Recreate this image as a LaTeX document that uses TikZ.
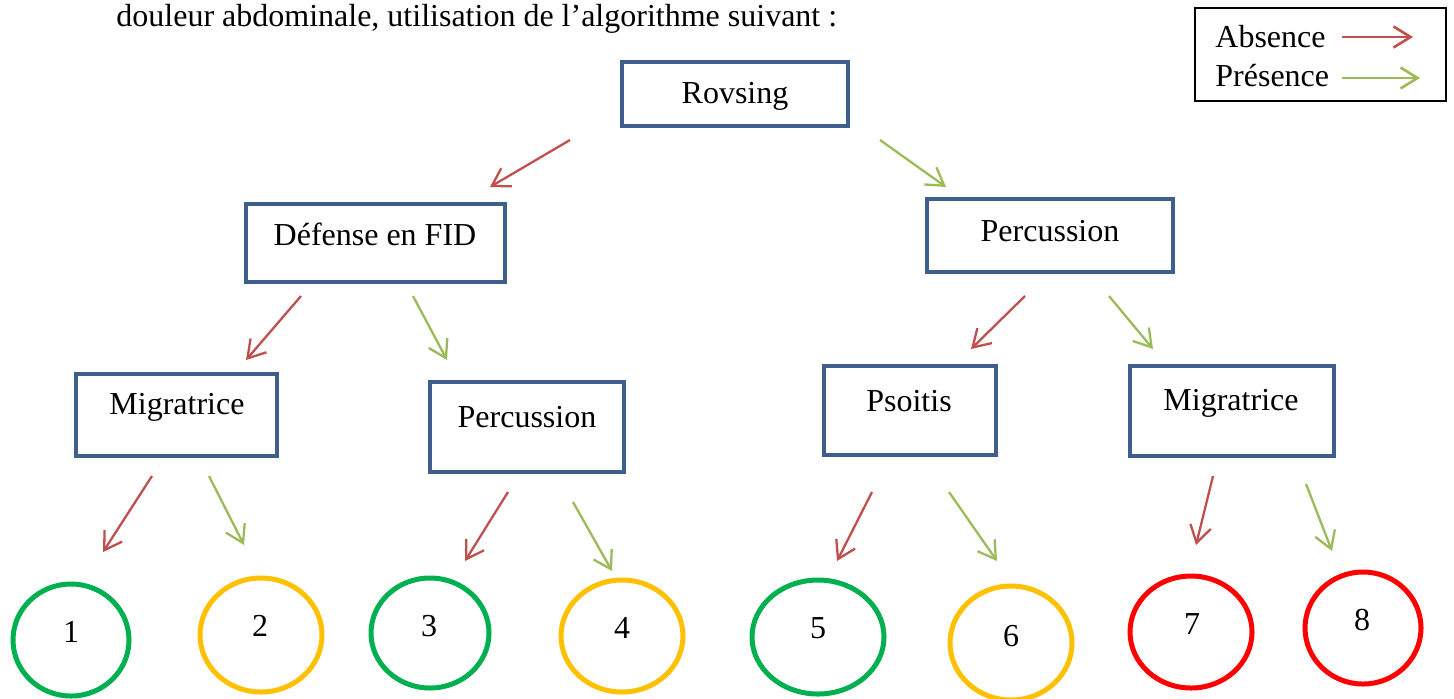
\documentclass[tikz,border=0pt]{standalone}
\usepackage{fontspec}
\setmainfont{Liberation Serif}
\usetikzlibrary{arrows.meta,shapes.geometric}
\definecolor{boxblue}{RGB}{62,94,140}
\definecolor{absred}{RGB}{192,80,77}
\definecolor{presgreen}{RGB}{155,187,89}
\definecolor{cgreen}{RGB}{0,176,80}
\definecolor{corange}{RGB}{255,192,0}
\definecolor{cred}{RGB}{255,0,0}
\begin{document}
\begin{tikzpicture}[x=0.5pt,y=-0.5pt,
  txt/.style={font=\fontsize{16}{19}\selectfont, inner sep=0pt, anchor=base},
  boxnode/.style={draw=boxblue, line width=2.4pt, rectangle, inner sep=0pt},
  ringnode/.style={ellipse, line width=2.5pt, inner sep=0pt},
  absarrow/.style={draw=absred, line width=1.15pt, -{Straight Barb[length=8.5pt,width=10.5pt]}},
  presarrow/.style={draw=presgreen, line width=1.15pt, -{Straight Barb[length=8.5pt,width=10.5pt]}}]
\useasboundingbox (0,0) rectangle (1454,698);
% title
\node[txt, anchor=base west] (title) at (116,26) {douleur abdominale, utilisation de l’algorithme suivant :};
% legend
\node[draw=black, line width=1pt, rectangle, inner sep=0pt, minimum width=125.5pt, minimum height=46.5pt] (legend) at (1320.5,54.5) {};
\node[txt, anchor=base west] (labs) at (1215,47) {Absence};
\node[txt, anchor=base west] (lpres) at (1215,86) {Présence};
\coordinate (la1) at (1342,37); \coordinate (la2) at (1413,37);
\coordinate (lp1) at (1342,78); \coordinate (lp2) at (1420,78);
\draw[absarrow, line width=1.3pt] (la1) -- (la2);
\draw[presarrow, line width=1.3pt] (lp1) -- (lp2);
% boxes
\node[boxnode, minimum width=113pt, minimum height=32pt] (rov) at (735,94) {};
\node[boxnode, minimum width=129.5pt, minimum height=39pt] (def) at (375.5,243) {};
\node[boxnode, minimum width=123pt, minimum height=36.5pt] (percR) at (1050,235.5) {};
\node[boxnode, minimum width=100.5pt, minimum height=41pt] (migL) at (176.5,415) {};
\node[boxnode, minimum width=97pt, minimum height=45pt] (percL) at (527,427) {};
\node[boxnode, minimum width=86pt, minimum height=44.5pt] (pso) at (910,410.5) {};
\node[boxnode, minimum width=102pt, minimum height=45pt] (migR) at (1232,411) {};
\node[txt] (rovT) at (735,103) {Rovsing};
\node[txt] (defT) at (375,245) {Défense en FID};
\node[txt] (percRT) at (1050,241) {Percussion};
\node[txt] (migLT) at (177,414) {Migratrice};
\node[txt] (percLT) at (527,427) {Percussion};
\node[txt] (psoT) at (909,411) {Psoitis};
\node[txt] (migRT) at (1231,410) {Migratrice};
% rings
\node[ringnode, draw=cgreen, minimum width=58pt, minimum height=56pt] (c1) at (71,640) {};
\node[ringnode, draw=corange, minimum width=61pt, minimum height=57pt] (c2) at (261,635) {};
\node[ringnode, draw=cgreen, minimum width=59pt, minimum height=55pt] (c3) at (430,633) {};
\node[ringnode, draw=corange, minimum width=61pt, minimum height=56pt] (c4) at (622,636) {};
\node[ringnode, draw=cgreen, minimum width=66pt, minimum height=57pt] (c5) at (818,637) {};
\node[ringnode, draw=corange, minimum width=61pt, minimum height=57pt] (c6) at (1011,643) {};
\node[ringnode, draw=cred, minimum width=61pt, minimum height=56pt] (c7) at (1191,632) {};
\node[ringnode, draw=cred, minimum width=58pt, minimum height=56pt] (c8) at (1363,628) {};
\node[txt] (n1) at (71,642) {1};
\node[txt] (n2) at (260,636) {2};
\node[txt] (n3) at (429,636) {3};
\node[txt] (n4) at (622,638) {4};
\node[txt] (n5) at (818,638) {5};
\node[txt] (n6) at (1011,646) {6};
\node[txt] (n7) at (1192,634) {7};
\node[txt] (n8) at (1362,630) {8};
% arrow end points
\coordinate (a1s) at (570,140);  \coordinate (a1e) at (490,187);
\coordinate (a2s) at (880,140);  \coordinate (a2e) at (946,187);
\coordinate (a3s) at (301,296);  \coordinate (a3e) at (246,360);
\coordinate (a4s) at (413,296);  \coordinate (a4e) at (447,360);
\coordinate (a5s) at (1025,296); \coordinate (a5e) at (971,349);
\coordinate (a6s) at (1109,296); \coordinate (a6e) at (1153,349);
\coordinate (b1s) at (152,476);  \coordinate (b1e) at (103,552);
\coordinate (b2s) at (209,476);  \coordinate (b2e) at (244,545);
\coordinate (b3s) at (508,492);  \coordinate (b3e) at (465,561);
\coordinate (b4s) at (573,502);  \coordinate (b4e) at (612,571);
\coordinate (b5s) at (872,492);  \coordinate (b5e) at (837,561);
\coordinate (b6s) at (949,492);  \coordinate (b6e) at (997,561);
\coordinate (b7s) at (1213,476); \coordinate (b7e) at (1196,545);
\coordinate (b8s) at (1306,484); \coordinate (b8e) at (1332,551);
\draw[absarrow] (a1s) -- (a1e);
\draw[presarrow] (a2s) -- (a2e);
\draw[absarrow] (a3s) -- (a3e);
\draw[presarrow] (a4s) -- (a4e);
\draw[absarrow] (a5s) -- (a5e);
\draw[presarrow] (a6s) -- (a6e);
\draw[absarrow] (b1s) -- (b1e);
\draw[presarrow] (b2s) -- (b2e);
\draw[absarrow] (b3s) -- (b3e);
\draw[presarrow] (b4s) -- (b4e);
\draw[absarrow] (b5s) -- (b5e);
\draw[presarrow] (b6s) -- (b6e);
\draw[absarrow] (b7s) -- (b7e);
\draw[presarrow] (b8s) -- (b8e);
\end{tikzpicture}
\end{document}
